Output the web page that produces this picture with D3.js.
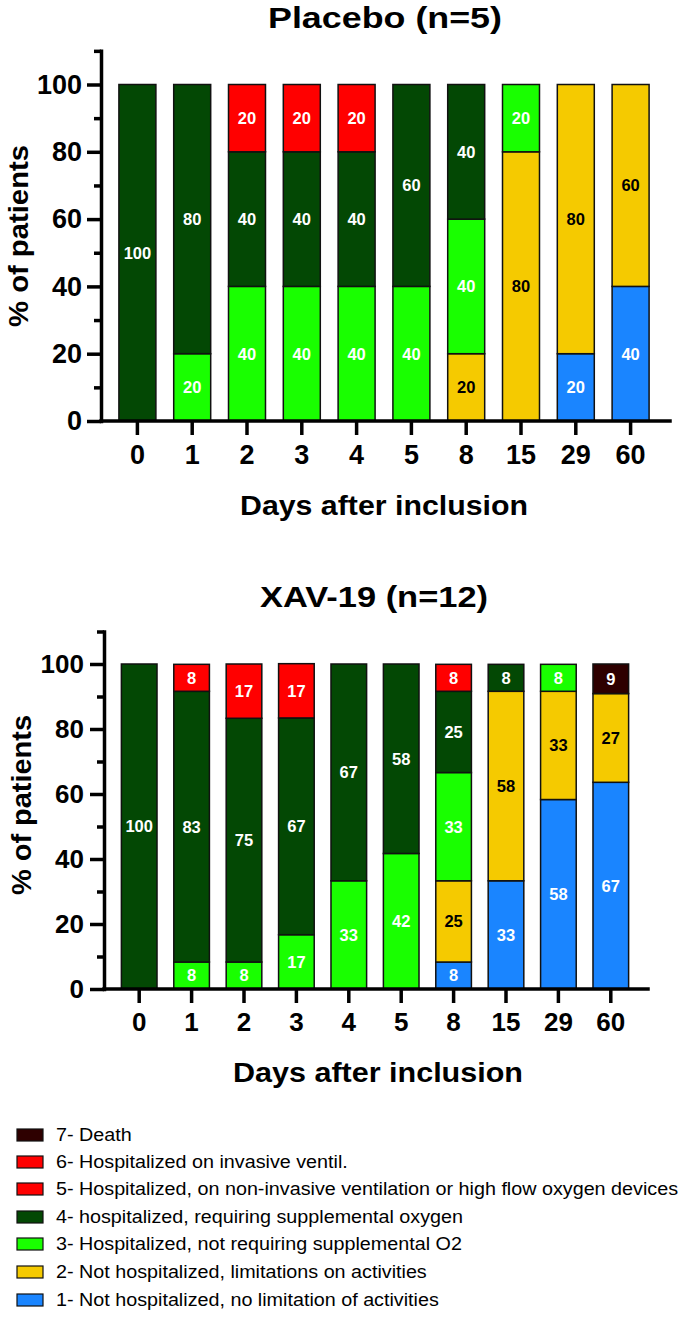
<!DOCTYPE html>
<html><head><meta charset="utf-8">
<script src="https://cdn.jsdelivr.net/npm/d3@7"></script>
<style>
body{margin:0;background:#fff}
svg{display:block}
text{font-family:"Liberation Sans",Arial,sans-serif}
</style></head>
<body><svg id="c" width="680" height="1325"></svg>
<script>
// ---------- DATA ----------
const days = ["0","1","2","3","4","5","8","15","29","60"];
const yTicks = [0,20,40,60,80,100];
const yMinorTicks = [10,30,50,70,90,110];

// Placebo (n=5), % of patients per WHO category
const placebo_cat1 = [0,0,0,0,0,0,0,0,20,40];
const placebo_cat2 = [0,0,0,0,0,0,20,80,80,60];
const placebo_cat3 = [0,20,40,40,40,40,40,20,0,0];
const placebo_cat4 = [100,80,40,40,40,60,40,0,0,0];
const placebo_cat5 = [0,0,20,20,20,0,0,0,0,0];
const placebo_cat6 = [0,0,0,0,0,0,0,0,0,0];
const placebo_cat7 = [0,0,0,0,0,0,0,0,0,0];

// XAV-19 (n=12), bar heights
const xav_cat1 = [0,0,0,0,0,0,8.3,33.3,58.3,63.6];
const xav_cat2 = [0,0,0,0,0,0,25,58.3,33.3,27.3];
const xav_cat3 = [0,8.3,8.3,16.7,33.3,41.7,33.3,0,8.3,0];
const xav_cat4 = [100,83.3,75,66.7,66.7,58.3,25,8.3,0,0];
const xav_cat5 = [0,8.3,16.7,16.7,0,0,8.3,0,0,0];
const xav_cat6 = [0,0,0,0,0,0,0,0,0,0];
const xav_cat7 = [0,0,0,0,0,0,0,0,0,9.1];
// XAV-19 printed labels
const xav_lab1 = ["","","","","","","8","33","58","67"];
const xav_lab2 = ["","","","","","","25","58","33","27"];
const xav_lab3 = ["","8","8","17","33","42","33","","8",""];
const xav_lab4 = ["100","83","75","67","67","58","25","8","",""];
const xav_lab5 = ["","8","17","17","","","8","","",""];
const xav_lab6 = ["","","","","","","","","",""];
const xav_lab7 = ["","","","","","","","","","9"];

const catKeys = ["c1","c2","c3","c4","c5","c6","c7"];
const catColors = ["#1a85ff","#f5ca00","#19ff00","#034804","#ff0000","#ff0000","#2e0000"];
const catTextColors = ["#fff","#000","#fff","#fff","#fff","#fff","#fff"];
const legendLabels = [
  "7- Death",
  "6- Hospitalized on invasive ventil.",
  "5- Hospitalized, on non-invasive ventilation or high flow oxygen devices",
  "4- hospitalized, requiring supplemental oxygen",
  "3- Hospitalized, not requiring supplemental O2",
  "2- Not hospitalized, limitations on activities",
  "1- Not hospitalized, no limitation of activities"
];
const legendColorIdx = [6,5,4,3,2,1,0];

// ---------- BUILD ----------
const svg = d3.select("#c");
function rows(series, labels){
  return days.map((d,i)=>{
    const r={day:d};
    series.forEach((s,k)=>{ r[catKeys[k]]=s[i]; r["l"+catKeys[k]]= labels ? labels[k][i] : (s[i]>0? String(s[i]):""); });
    return r;
  });
}
const panels = [
  {title:"Placebo (n=5)", titleX:385, titleY:28, titleLen:234,
   data: rows([placebo_cat1,placebo_cat2,placebo_cat3,placebo_cat4,placebo_cat5,placebo_cat6,placebo_cat7]),
   axisX:101, y0:421, y100:84.5, xr:[110,658], pad:0.325, axisEnd:670, tickFont:27, yPad:5,
   xTitleX:384, xTitleY:515, xTitleLen:288, yTitleX:28, yTitleY:236, yTitleLen:182},
  {title:"XAV-19 (n=12)", titleX:374, titleY:607, titleLen:228,
   data: rows([xav_cat1,xav_cat2,xav_cat3,xav_cat4,xav_cat5,xav_cat6,xav_cat7],
              [xav_lab1,xav_lab2,xav_lab3,xav_lab4,xav_lab5,xav_lab6,xav_lab7]),
   axisX:104, y0:989, y100:664, xr:[113,637], pad:0.32, axisEnd:648, tickFont:26, yPad:6,
   xTitleX:378, xTitleY:1082, xTitleLen:290, yTitleX:31, yTitleY:805, yTitleLen:180}
];

panels.forEach(p=>{
  const g = svg.append("g");
  const pxPer = (p.y0-p.y100)/100;
  const y = d3.scaleLinear().domain([0,110]).range([p.y0, p.y0-110*pxPer]);
  const x = d3.scaleBand().domain(days).range(p.xr).paddingInner(p.pad).paddingOuter(p.pad/2);
  const stack = d3.stack().keys(catKeys)(p.data);

  // bars
  stack.forEach((layer,k)=>{
    const lg = g.append("g");
    lg.selectAll("rect").data(layer.filter(d=>d[1]-d[0]>0)).join("rect")
      .attr("x", d=>x(d.data.day)).attr("width", x.bandwidth())
      .attr("y", d=>y(d[1])).attr("height", d=>y(d[0])-y(d[1]))
      .attr("fill", catColors[k]).attr("stroke","#111").attr("stroke-width",1.5);
    lg.selectAll("text").data(layer.filter(d=>d[1]-d[0]>0 && d.data["l"+catKeys[k]]!=="")).join("text")
      .attr("x", d=>x(d.data.day)+x.bandwidth()/2)
      .attr("y", d=>(y(d[0])+y(d[1]))/2)
      .attr("dy","0.36em").attr("text-anchor","middle")
      .attr("font-size",16.5).attr("font-weight","bold")
      .attr("fill", catTextColors[k])
      .text(d=>d.data["l"+catKeys[k]]);
  });

  // y axis
  const ya = g.append("g").attr("transform",`translate(${p.axisX},0)`)
    .call(d3.axisLeft(y).tickValues(yTicks).tickSize(14).tickSizeOuter(0).tickPadding(p.yPad).tickFormat(d3.format("d")));
  ya.selectAll("path,line").attr("stroke","#000").attr("stroke-width",3.5);
  ya.select(".domain").attr("stroke-linecap","square");
  ya.selectAll("text").attr("font-size",p.tickFont).attr("font-weight","bold").attr("fill","#000");
  const ym = g.append("g").attr("transform",`translate(${p.axisX},0)`)
    .call(d3.axisLeft(y).tickValues(yMinorTicks).tickSize(7).tickSizeOuter(0).tickFormat(""));
  ym.select(".domain").remove();
  ym.selectAll("line").attr("stroke","#000").attr("stroke-width",3.5);

  // x axis
  const xa = g.append("g").attr("transform",`translate(0,${p.y0})`)
    .call(d3.axisBottom(x).tickSize(14).tickSizeOuter(0).tickPadding(10));
  xa.select(".domain").remove();
  xa.selectAll("line").attr("stroke","#000").attr("stroke-width",3.5);
  xa.selectAll("text").attr("font-size",p.tickFont).attr("font-weight","bold").attr("fill","#000");
  g.append("line").attr("x1",p.axisX).attr("x2",p.axisEnd).attr("y1",p.y0).attr("y2",p.y0)
    .attr("stroke","#000").attr("stroke-width",3.5).attr("stroke-linecap","square");

  // titles
  g.append("text").attr("x",p.titleX).attr("y",p.titleY).attr("text-anchor","middle")
    .attr("font-size",29).attr("font-weight","bold")
    .attr("textLength",p.titleLen).attr("lengthAdjust","spacingAndGlyphs").text(p.title);
  g.append("text").attr("x",p.xTitleX).attr("y",p.xTitleY).attr("text-anchor","middle")
    .attr("font-size",28).attr("font-weight","bold")
    .attr("textLength",p.xTitleLen).attr("lengthAdjust","spacingAndGlyphs").text("Days after inclusion");
  g.append("text").attr("transform",`translate(${p.yTitleX},${p.yTitleY}) rotate(-90)`)
    .attr("text-anchor","middle").attr("font-size",28).attr("font-weight","bold")
    .attr("textLength",p.yTitleLen).attr("lengthAdjust","spacingAndGlyphs").text("% of patients");
});

// legend
const lgY = [1135,1162,1189,1217,1244,1272,1300];
const leg = svg.append("g");
leg.selectAll("rect").data(legendLabels).join("rect")
  .attr("x",17).attr("y",(d,i)=>lgY[i]-6).attr("width",26).attr("height",12)
  .attr("fill",(d,i)=>catColors[legendColorIdx[i]]).attr("stroke","#111").attr("stroke-width",1.2);
const lt = leg.selectAll("text").data(legendLabels).join("text")
  .attr("x",56).attr("y",(d,i)=>lgY[i]).attr("dy","0.36em")
  .attr("font-size",17.5).attr("fill","#000").text(d=>d);
// stretch legend text so the longest line spans its width in the figure
let maxW = 0; lt.each(function(){ maxW = Math.max(maxW, this.getComputedTextLength()); });
const sx = 622/maxW;
lt.each(function(){ const w=this.getComputedTextLength(); d3.select(this).attr("textLength", w*sx).attr("lengthAdjust","spacingAndGlyphs"); });
</script></body></html>
